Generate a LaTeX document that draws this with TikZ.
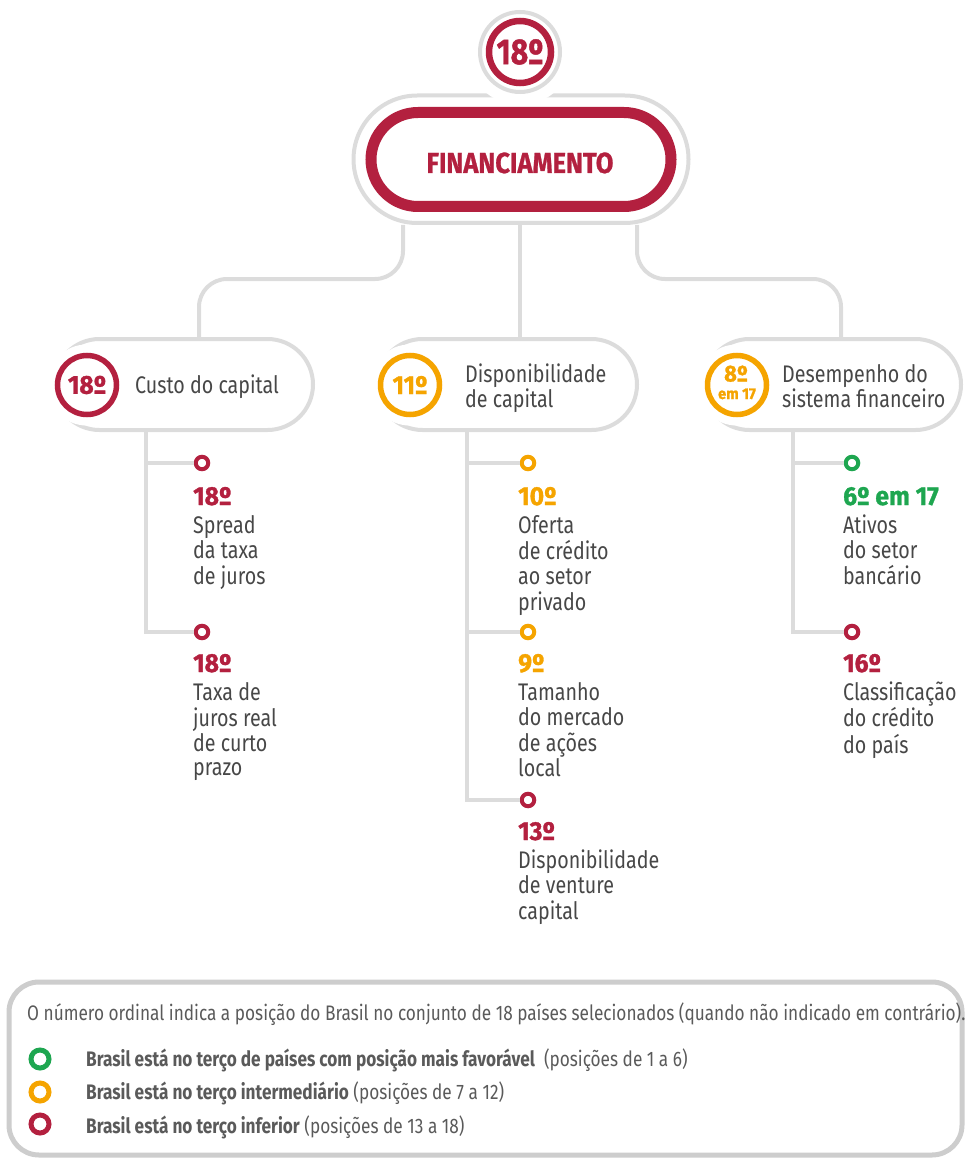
\documentclass[tikz,border=0pt]{standalone}
\usepackage{fontspec}
\setmainfont{Fira Sans}[FakeStretch=0.82]
\newfontfamily\numfont{Fira Sans}[FakeStretch=0.95, BoldFeatures={FakeBold=1.2}]
\newfontfamily\numfontc{Fira Sans}[FakeStretch=0.84, BoldFeatures={FakeBold=1.2}]
\newfontfamily\titlefont{Fira Sans}[FakeStretch=0.88, BoldFeatures={FakeBold=0.8}]
\definecolor{cred}{HTML}{B3203F}
\definecolor{corange}{HTML}{F5A400}
\definecolor{cgreen}{HTML}{1EA650}
\definecolor{cline}{HTML}{DCDCDC}
\definecolor{cframe}{HTML}{CDCDCD}
\definecolor{ctext}{HTML}{474747}
\definecolor{clegend}{HTML}{5A5A5A}
\newcommand\ml[1]{\begin{tabular}[t]{@{}l@{}}#1\end{tabular}}
\begin{document}
\begin{tikzpicture}[x=1pt,y=-1pt,
  conn/.style={draw=cline, line width=4, rounded corners=28},
  leafline/.style={draw=cline, line width=3.5},
  pill/.style={draw=cline, line width=4, fill=white, rounded corners=45.5, minimum height=91, inner sep=0},
  badge/.style={circle, draw=#1, line width=5.5, fill=white, minimum size=59, inner sep=0, text=#1,
    font=\numfont\bfseries\fontsize{26}{26}\selectfont, preaction={draw=white, line width=22}},
  dot/.style={circle, draw=#1, line width=4, minimum size=12.5, inner sep=0, fill=white},
  ldot/.style={circle, draw=#1, line width=5, minimum size=18, inner sep=0, fill=white},
  num/.style={anchor=base west, inner sep=0, text=#1, font=\numfont\bfseries\fontsize{26}{26}\selectfont},
  leaf/.style={anchor=base west, inner sep=0, text=ctext, font=\fontsize{24}{24.5}\selectfont},
  cat/.style={anchor=base west, inner sep=0, text=ctext, font=\fontsize{24}{22}\selectfont},
  legtext/.style={anchor=base west, inner sep=0, text=clegend, font=\fontsize{21}{21}\selectfont},
]
\useasboundingbox (0,0) rectangle (966,1158);

% helper coordinates
\coordinate (t1) at (403,0);
\coordinate (t2) at (520,0);
\coordinate (t3) at (637,0);
\coordinate (j1) at (199,279);
\coordinate (j3) at (841,279);
\coordinate (v1) at (146,0);
\coordinate (v2) at (467,0);
\coordinate (v3) at (793,0);

% main node
\node[draw=cline, line width=4, fill=white, rounded corners=63.75, minimum width=335, minimum height=127.5, inner sep=0] (mainout) at (521,159.25) {};
\node[draw=cred, line width=11, fill=white, rounded corners=47, minimum width=300, minimum height=94, inner sep=0] (main) at (521,159.5) {};
\node[anchor=base, inner sep=0, text=cred, font=\titlefont\bfseries\fontsize{29}{29}\selectfont] (maint) at (520,173) {FINANCIAMENTO};

% top badge
\node[circle, draw=cline, line width=4, fill=white, minimum size=80, inner sep=0, preaction={draw=white, line width=26}] (b0o) at (520,52) {};
\node[circle, draw=cred, line width=6.5, fill=white, minimum size=62, inner sep=0, text=cred, font=\numfontc\bfseries\fontsize{36}{36}\selectfont] (b0) at (520,52) {18º};

% category pills
\node[pill, minimum width=259] (c1) at (183.5,384.5) {};
\node[pill, minimum width=260] (c2) at (507,384.5) {};
\node[pill, minimum width=257] (c3) at (832.5,384.5) {};

% top connectors
\draw[conn] (mainout.south -| t1) |- (j1) -- (j1 |- c1.north);
\draw[conn] (mainout.south -| t2) -- (t2 |- c2.north);
\draw[conn] (mainout.south -| t3) |- (j3) -- (j3 |- c3.north);

% badges
\node[badge=cred] (b1) at (87,385) {18º};
\node[badge=corange] (b2) at (410,385) {11º};
\node[badge=corange] (b3) at (737,385) {};
\node[anchor=base, inner sep=0, text=corange, font=\numfont\bfseries\fontsize{23}{23}\selectfont] (b3a) at (736,381.5) {8º};
\node[anchor=base, inner sep=0, text=corange, font=\numfont\bfseries\fontsize{15.5}{15.5}\selectfont] (b3b) at (737,399) {em 17};

% category texts
\node[cat] (c1t) at (135,393) {Custo do capital};
\node[cat] (c2t) at (465,382) {\ml{Disponibilidade\\de capital}};
\node[cat] (c3t) at (782,382) {\ml{Desempenho do\\sistema financeiro}};

% leaf dots
\node[dot=cred] (d11) at (202,463) {};
\node[dot=cred] (d12) at (202,632) {};
\node[dot=corange] (d21) at (528,463) {};
\node[dot=corange] (d22) at (528,632) {};
\node[dot=cred] (d23) at (528,800) {};
\node[dot=cgreen] (d31) at (852,463) {};
\node[dot=cred] (d32) at (852,632) {};

% leaf lines
\draw[leafline] (c1.south -| v1) |- (d12);
\draw[leafline] (v1 |- d11) -- (d11);
\draw[leafline] (c2.south -| v2) |- (d23);
\draw[leafline] (v2 |- d21) -- (d21);
\draw[leafline] (v2 |- d22) -- (d22);
\draw[leafline] (c3.south -| v3) |- (d32);
\draw[leafline] (v3 |- d31) -- (d31);

% leaf texts
\node[num=cred] (n11) at (193,505) {18º};
\node[leaf] (l11) at (193,533) {\ml{Spread\\da taxa\\de juros}};
\node[num=cred] (n12) at (193,672) {18º};
\node[leaf] (l12) at (193,700) {\ml{Taxa de\\juros real\\de curto\\prazo}};

\node[num=corange] (n21) at (518,505) {10º};
\node[leaf] (l21) at (518,533) {\ml{Oferta\\de crédito\\ao setor\\privado}};
\node[num=corange] (n22) at (518,672) {9º};
\node[leaf] (l22) at (518,700) {\ml{Tamanho\\do mercado\\de ações\\local}};
\node[num=cred] (n23) at (518,840) {13º};
\node[leaf] (l23) at (518,868) {\ml{Disponibilidade\\de venture\\capital}};

\node[num=cgreen] (n31) at (843,505) {6º em 17};
\node[leaf] (l31) at (843,533) {\ml{Ativos\\do setor\\bancário}};
\node[num=cred] (n32) at (843,672) {16º};
\node[leaf] (l32) at (843,700) {\ml{Classificação\\do crédito\\do país}};

% legend
\node[draw=cframe, line width=5, rounded corners=30, minimum width=953, minimum height=173, inner sep=0] (legend) at (485.5,1068.5) {};
\node[legtext] (lg0) at (27,1020) {O número ordinal indica a posição do Brasil no conjunto de 18 países selecionados (quando não indicado em contrário).};
\node[ldot=cgreen] (ld1) at (40,1059) {};
\node[legtext] (lg1) at (86,1066) {\textbf{Brasil está no terço de países com posição mais favorável}\ \ (posições de 1 a 6)};
\node[ldot=corange] (ld2) at (40,1092) {};
\node[legtext] (lg2) at (86,1099) {\textbf{Brasil está no terço intermediário} (posições de 7 a 12)};
\node[ldot=cred] (ld3) at (40,1124) {};
\node[legtext] (lg3) at (86,1133) {\textbf{Brasil está no terço inferior} (posições de 13 a 18)};
\end{tikzpicture}
\end{document}
